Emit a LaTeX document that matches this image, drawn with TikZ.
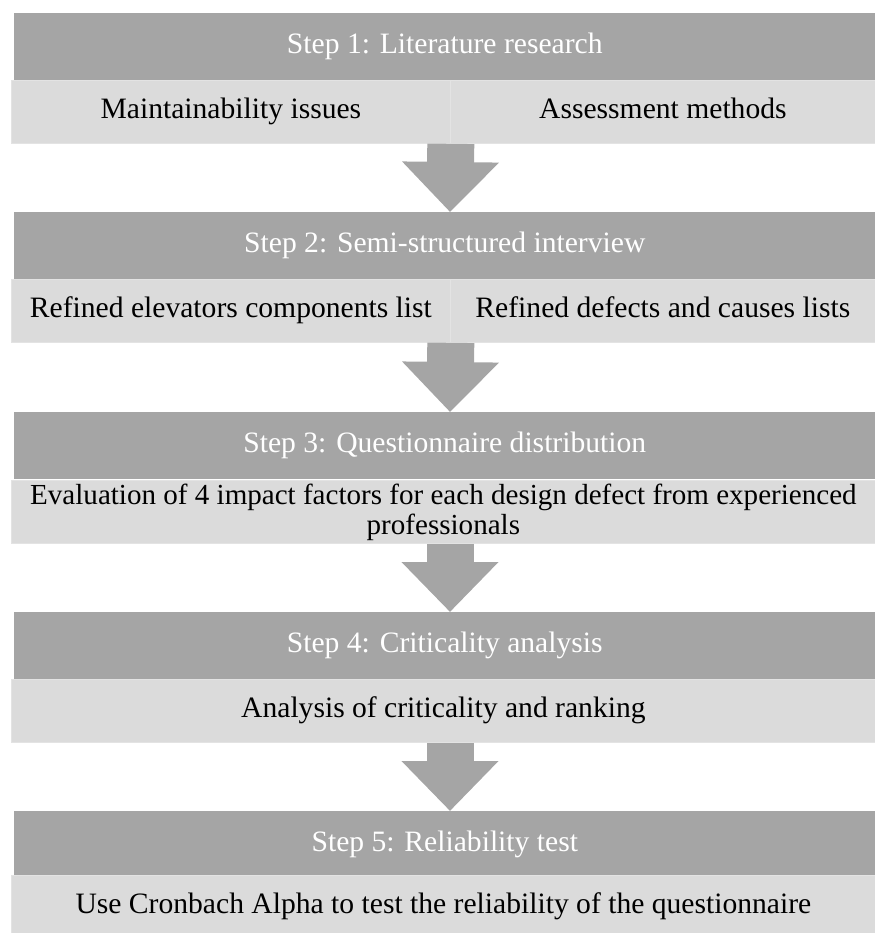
\documentclass[tikz,border=0pt]{standalone}
\usepackage{fontspec}
\setmainfont{Liberation Serif}
\usetikzlibrary{arrows.meta}
\definecolor{hdrgray}{HTML}{A5A5A5}
\definecolor{rowgray}{HTML}{DBDBDB}
\definecolor{rowedge}{HTML}{E3E3E3}
\tikzset{
  txtfont/.style={font=\fontsize{22.2}{22.5}\selectfont},
  hdr/.style={fill=hdrgray, draw=none, anchor=north west, inner sep=0pt,
    minimum width=645.75pt, minimum height=50.25pt, text=white, txtfont,
    text height=15pt, text depth=4.5pt},
  rowbase/.style={fill=rowgray, draw=rowedge, line width=0.6pt, anchor=north west, inner sep=0pt,
    minimum height=47.25pt, text=black, txtfont},
  rowbox/.style={rowbase, text height=15pt, text depth=4.5pt},
  bigarrow/.style={draw=hdrgray, line width=35.25pt,
    -{Triangle[length=37.5pt, width=70.5pt, fill=hdrgray]}, shorten >=0pt}
}
\begin{document}
\begin{tikzpicture}[x=0.75pt, y=-0.75pt]
\useasboundingbox (0,0) rectangle (875,933);
\coordinate (ax) at (450,0);
% Step 1
\node[hdr] (h1) at (14,13) {Step 1: Literature research};
\node[rowbox, minimum width=329.25pt] (r1a) at (11,80) {Maintainability issues};
\node[rowbox, minimum width=318.75pt] (r1b) at (450,80) {Assessment methods};
% Step 2
\node[hdr] (h2) at (14,212) {Step 2: Semi-structured interview};
\node[rowbox, minimum width=329.25pt] (r2a) at (11,279) {Refined elevators components list};
\node[rowbox, minimum width=318.75pt] (r2b) at (450,279) {Refined defects and causes lists};
% Step 3
\node[hdr] (h3) at (14,412) {Step 3: Questionnaire distribution};
\node[rowbase, minimum width=648pt, align=center, font=\fontsize{21.8}{22.5}\selectfont] (r3) at (11,480)
  {Evaluation of 4 impact factors for each design defect from experienced\\professionals};
% Step 4
\node[hdr] (h4) at (14,612) {Step 4: Criticality analysis};
\node[rowbox, minimum width=648pt] (r4) at (11,679) {Analysis of criticality and ranking};
% Step 5
\node[hdr] (h5) at (14,811) {Step 5: Reliability test};
\node[rowbox, minimum width=648pt] (r5) at (11,875) {Use Cronbach Alpha to test the reliability of the questionnaire};
% arrows
\draw[bigarrow] (r1a.south east) -- (h2.north -| ax);
\draw[bigarrow] (r2a.south east) -- (h3.north -| ax);
\draw[bigarrow] (r3.south -| ax) -- (h4.north -| ax);
\draw[bigarrow] (r4.south -| ax) -- (h5.north -| ax);
\end{tikzpicture}
\end{document}
